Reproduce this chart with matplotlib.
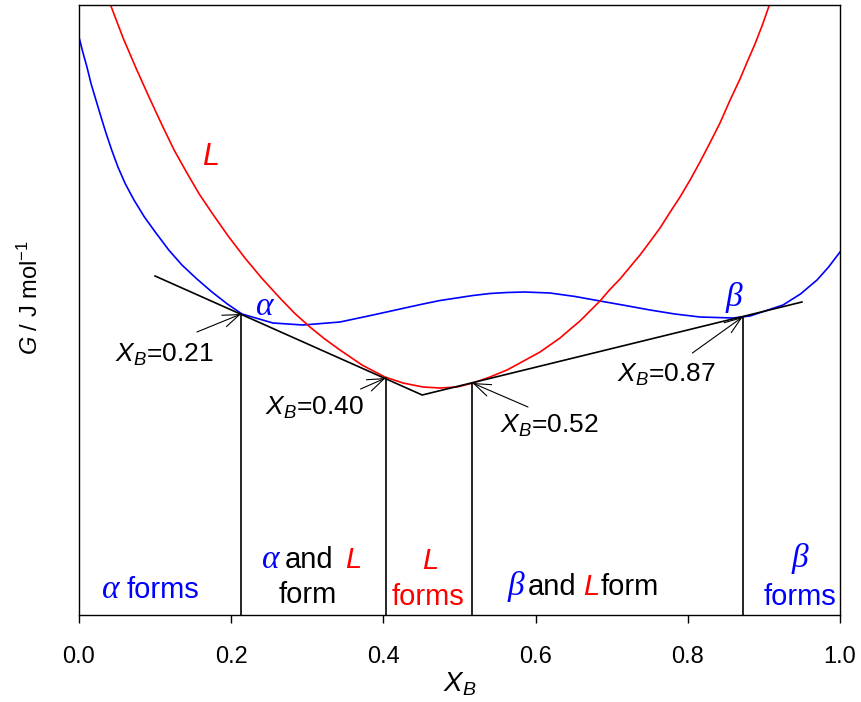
import numpy as np
import matplotlib
matplotlib.use("Agg")
import matplotlib.pyplot as plt

plt.rcParams['font.family'] = ['Liberation Sans', 'DejaVu Sans']
plt.rcParams['mathtext.fontset'] = 'custom'
plt.rcParams['mathtext.rm'] = 'Liberation Sans'
plt.rcParams['mathtext.it'] = 'Liberation Sans:italic'
plt.rcParams['mathtext.bf'] = 'Liberation Sans:bold'

# Kurve der festen Phase (alpha / beta)
x_solid = [0.0, 0.005, 0.0105, 0.016, 0.0223, 0.029, 0.0355, 0.043, 0.0512, 0.061,
           0.0723, 0.086, 0.1012, 0.118, 0.1353, 0.155, 0.1748, 0.195, 0.2142,
           0.2549, 0.2943, 0.3430, 0.3863, 0.4310, 0.452, 0.4744, 0.5177, 0.540,
           0.5624, 0.586, 0.6189, 0.652, 0.6846, 0.718, 0.7503, 0.783, 0.8160,
           0.8594, 0.8817, 0.9251, 0.948, 0.9698, 0.985, 1.0]
g_solid = [578, 563, 548, 531, 515, 498, 482, 465, 448, 431,
           415, 398, 382, 365, 350, 336, 323, 311, 301,
           292, 290, 293, 300, 307.5, 311, 314.5, 319.5, 321.5,
           322.5, 323, 322, 318.5, 314, 309.5, 305, 301, 298,
           297, 299, 310, 321, 335, 348, 363]

# Kurve der Schmelze (L)
x_liq = [0.042, 0.058, 0.0749, 0.092, 0.1091, 0.125, 0.1419, 0.158, 0.1748, 0.196,
         0.2181, 0.240, 0.2628, 0.283, 0.3035, 0.323, 0.3430, 0.3719, 0.4021,
         0.4258, 0.4520, 0.4744, 0.4967, 0.5177, 0.5401, 0.5624, 0.5795, 0.6058,
         0.6321, 0.645, 0.6583, 0.6846, 0.697, 0.7109, 0.724, 0.7372, 0.750, 0.7635,
         0.776, 0.7898, 0.803, 0.8160, 0.829, 0.8423, 0.855, 0.8686, 0.878, 0.8883,
         0.898, 0.9067]
g_liq = [609, 577, 547, 518, 490, 465, 442, 421, 402, 379,
         357, 337, 318, 302, 288, 276, 265, 250, 238,
         232, 228, 227, 228, 232, 238, 245, 252, 263,
         277, 285.5, 294, 314, 325, 336, 348, 360, 373, 387,
         402, 418, 435, 453, 472, 492, 514, 536, 553, 571,
         590, 609]

# gemeinsame Tangenten
x_tan = [0.100, 0.451, 0.950]
g_tan = [339, 220, 313]

# Zusammensetzungen der Beruehrpunkte
x_pts = [0.213, 0.403, 0.517, 0.872]
g_pts = [301, 237, 232, 298]
labels_pts = ['0.21', '0.40', '0.52', '0.87']
# Textanker (links, Grundlinie) und Pfeilanfang
text_xy = [(0.047, 253), (0.244, 200), (0.553, 182), (0.707, 233)]
tail_xy = [(0.155, 283), (0.370, 226), (0.590, 208), (0.806, 262)]

blau = '#0000ff'
rot = '#ff0000'

fig = plt.figure(figsize=(8.62, 7.02), dpi=100)
ax = fig.add_axes([0.0916, 0.1239, 0.8829, 0.869])

ax.plot(x_solid, g_solid, color=blau, lw=1.2)
ax.plot(x_liq, g_liq, color=rot, lw=1.2)
ax.plot(x_tan, g_tan, color='black', lw=1.2)
for xp, gp in zip(x_pts, g_pts):
    ax.plot([xp, xp], [0, gp], color='black', lw=1.2)

for (tx, ty), (ax0, ay0), xp, gp, lab in zip(text_xy, tail_xy, x_pts, g_pts, labels_pts):
    ax.text(tx, ty, r'$X_B$=' + lab, fontsize=19, ha='left', va='baseline')
    ax.annotate('', xy=(xp, gp), xytext=(ax0, ay0),
                arrowprops=dict(arrowstyle='->,head_length=0.6,head_width=0.22',
                                lw=0.8, color='black', mutation_scale=20,
                                shrinkA=0, shrinkB=0))

greek = dict(family='Liberation Serif', style='italic')
# Kurvenbeschriftungen
ax.text(0.162, 450, 'L', color=rot, fontsize=22, style='italic', va='baseline')
ax.text(0.233, 300, 'α', color=blau, fontsize=24, va='baseline', **greek)
ax.text(0.849, 309, 'β', color=blau, fontsize=24, va='baseline', **greek)

# Bereichsbeschriftungen
fs = 21
ax.text(0.030, 17, 'α', color=blau, fontsize=fs + 3, va='baseline', **greek)
ax.text(0.063, 17, 'forms', color=blau, fontsize=fs, va='baseline')

ax.text(0.240, 47, 'α', color=blau, fontsize=fs + 3, va='baseline', **greek)
ax.text(0.271, 47, 'and', color='black', fontsize=fs, va='baseline')
ax.text(0.350, 47, 'L', color=rot, fontsize=fs, style='italic', va='baseline')
ax.text(0.300, 12, 'form', color='black', fontsize=fs, ha='center', va='baseline')

ax.text(0.461, 46, 'L', color=rot, fontsize=fs, style='italic', ha='center', va='baseline')
ax.text(0.459, 10, 'forms', color=rot, fontsize=fs, ha='center', va='baseline')

ax.text(0.563, 20, 'β', color=blau, fontsize=fs + 3, va='baseline', **greek)
ax.text(0.590, 20, 'and', color='black', fontsize=fs, va='baseline')
ax.text(0.662, 20, 'L', color=rot, fontsize=fs, style='italic', va='baseline')
ax.text(0.686, 20, 'form', color='black', fontsize=fs, va='baseline')

ax.text(0.947, 48, 'β', color=blau, fontsize=fs + 3, ha='center', va='baseline', **greek)
ax.text(0.947, 10, 'forms', color=blau, fontsize=fs, ha='center', va='baseline')

ax.set_xlim(0, 1)
ax.set_ylim(0, 610)
ax.set_xticks([0.0, 0.2, 0.4, 0.6, 0.8, 1.0])
ax.set_xticklabels(['0.0', '0.2', '0.4', '0.6', '0.8', '1.0'])
ax.set_yticks([])
ax.tick_params(axis='x', direction='out', length=6, width=1, labelsize=17, pad=16)
for s in ax.spines.values():
    s.set_linewidth(1.0)

ax.set_xlabel(r'$X_B$', fontsize=20, labelpad=2)
ax.set_ylabel(r'$G$ / J mol$^{-1}$', fontsize=17)
ax.yaxis.set_label_coords(-0.047, 0.521)

fig.savefig('out.png', dpi=100)
